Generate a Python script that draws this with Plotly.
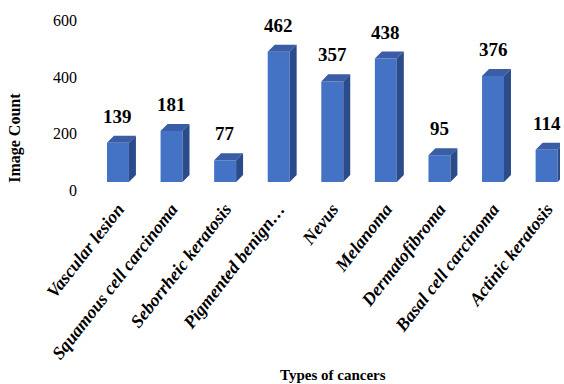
import plotly.graph_objects as go

categories = ["Vascular lesion", "Squamous cell carcinoma", "Seborrheic keratosis",
              "Pigmented benign…", "Nevus", "Melanoma", "Dermatofibroma",
              "Basal cell carcinoma", "Actinic keratosis"]
counts = [139, 181, 77, 462, 357, 438, 95, 376, 114]
y_ticks = [0, 200, 400, 600]

FRONT = "#4472C4"
TOP = "#3A5DA6"
SIDE = "#2B4B8A"
BAR_W = 0.41
DX = 0.13   # depth offset in category units
DY = 25     # depth offset in value units
SERIF = "Times New Roman, Liberation Serif, serif"

xs = list(range(len(categories)))

# top and side faces derived from the data
top_x, top_y, side_x, side_y = [], [], [], []
for i, v in zip(xs, counts):
    l, r = i - BAR_W / 2, i + BAR_W / 2
    top_x += [l, r, r + DX, l + DX, l, None]
    top_y += [v, v, v + DY, v + DY, v, None]
    side_x += [r, r + DX, r + DX, r, r, None]
    side_y += [0, DY, v + DY, v, 0, None]

fig = go.Figure()
fig.add_trace(go.Bar(x=xs, y=counts, width=BAR_W, marker=dict(color=FRONT, line=dict(width=0)),
                     hoverinfo="skip"))
fig.add_trace(go.Scatter(x=top_x, y=top_y, mode="lines", fill="toself", fillcolor=TOP,
                         line=dict(width=0, color=TOP), hoverinfo="skip"))
fig.add_trace(go.Scatter(x=side_x, y=side_y, mode="lines", fill="toself", fillcolor=SIDE,
                         line=dict(width=0, color=SIDE), hoverinfo="skip"))

for i, v in zip(xs, counts):
    fig.add_annotation(x=i, y=v, text="<b>%d</b>" % v, showarrow=False, yanchor="bottom", yshift=14,
                       font=dict(family=SERIF, size=19, color="black"))

fig.add_annotation(xref="paper", yref="paper", x=-0.131, y=0.249, text="<b>Image Count</b>", textangle=-90,
                   showarrow=False, xanchor="center", yanchor="middle",
                   font=dict(family=SERIF, size=16, color="black"))
fig.add_annotation(xref="paper", yref="paper", x=0.529, y=-1.09, yanchor="middle",
                   text="<b>Types of cancers</b>",
                   showarrow=False, font=dict(family=SERIF, size=15, color="black"))

fig.update_layout(
    width=564, height=384,
    margin=dict(l=78, r=4, t=5, b=202),
    paper_bgcolor="white", plot_bgcolor="white",
    showlegend=False,
    xaxis=dict(range=[-0.746, 8.25], tickmode="array", tickvals=xs,
               ticktext=["<b><i>%s</i></b>" % c for c in categories],
               tickangle=-52, showgrid=False, zeroline=False, showline=False,
               ticklabelstandoff=12,
               tickfont=dict(family=SERIF, size=18, color="black")),
    yaxis=dict(range=[0, 628], tickmode="array", tickvals=y_ticks, showgrid=False, zeroline=False,
               showline=False, ticklabelshift=8,
               tickfont=dict(family=SERIF, size=16, color="black")),
)

fig.write_html("out.html")
